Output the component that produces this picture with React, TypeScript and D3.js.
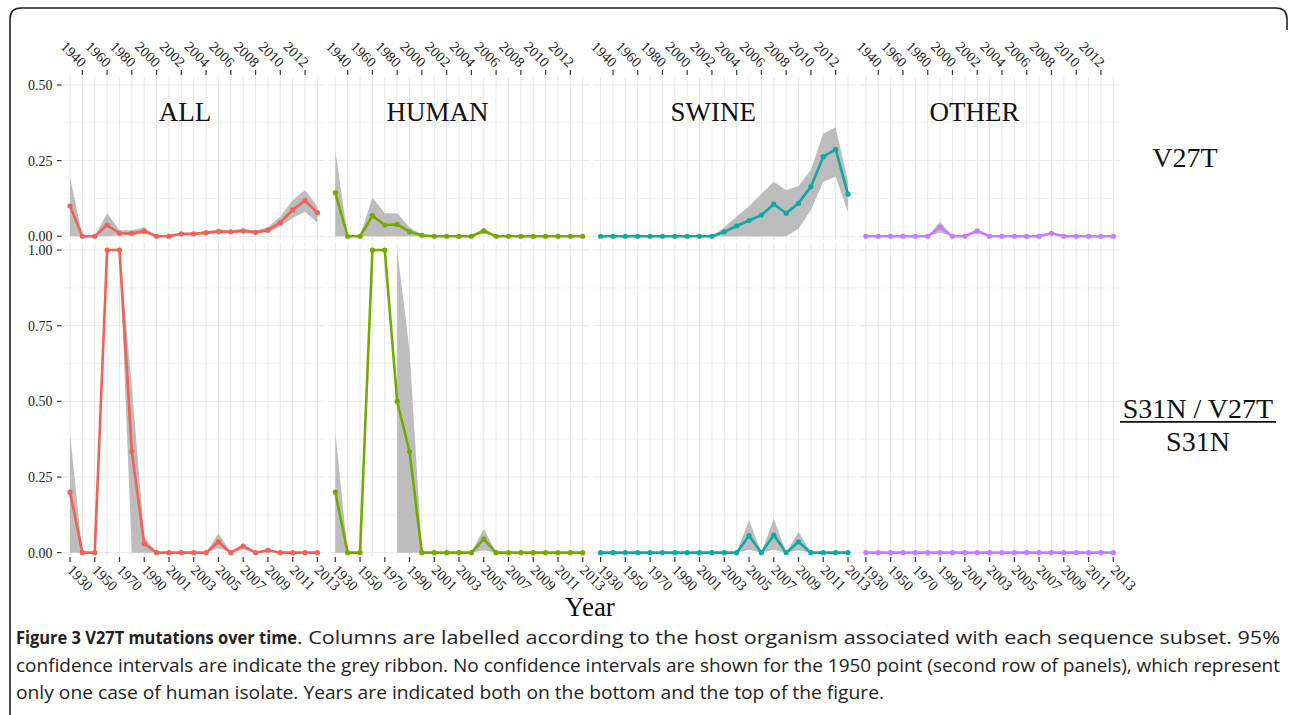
import React from 'react';
import * as d3 from 'd3';

// ---------- data ----------
const years = ['1930', '1940', '1950', '1960', '1970', '1980', '1990', '2000', '2001', '2002', '2003', '2004', '2005', '2006', '2007', '2008', '2009', '2010', '2011', '2012', '2013'];
const hosts = ['ALL', 'HUMAN', 'SWINE', 'OTHER'];
const hostColors = ['#EE6258', '#74A900', '#10A8A2', '#C77CFF'];

const topTicks = [0, 0.25, 0.5];
const bottomTicks = [0, 0.25, 0.5, 0.75, 1];

// Row 1: V27T
const allV27T = [0.10, 0, 0, 0.037, 0.01, 0.01, 0.017, 0, 0, 0.008, 0.008, 0.012, 0.016, 0.015, 0.018, 0.013, 0.02, 0.045, 0.087, 0.118, 0.078];
const allV27TLo = [0, 0, 0, 0, 0.003, 0.003, 0.008, 0, 0, 0.004, 0.004, 0.007, 0.01, 0.01, 0.012, 0.008, 0.013, 0.032, 0.06, 0.081, 0.045];
const allV27THi = [0.197, 0, 0, 0.076, 0.02, 0.02, 0.03, 0, 0, 0.012, 0.012, 0.017, 0.022, 0.02, 0.025, 0.018, 0.03, 0.065, 0.12, 0.153, 0.098];

const humanV27T = [0.144, 0, 0, 0.068, 0.037, 0.039, 0.015, 0.003, 0, 0, 0, 0, 0.018, 0, 0, 0, 0, 0, 0, 0, 0];
const humanV27TLo = [0, 0, 0, 0, 0, 0, 0, 0, 0, 0, 0, 0, 0.008, 0, 0, 0, 0, 0, 0, 0, 0];
const humanV27THi = [0.285, 0, 0, 0.128, 0.076, 0.076, 0.03, 0.005, 0, 0, 0, 0, 0.028, 0, 0, 0, 0, 0, 0, 0, 0];

const swineV27T = [0, 0, 0, 0, 0, 0, 0, 0, 0, 0, 0.015, 0.034, 0.052, 0.07, 0.106, 0.076, 0.109, 0.164, 0.263, 0.287, 0.139];
const swineV27TLo = [0, 0, 0, 0, 0, 0, 0, 0, 0, 0, 0, 0, 0, 0, 0, 0, 0.025, 0.087, 0.18, 0.197, 0.08];
const swineV27THi = [0, 0, 0, 0, 0, 0, 0, 0, 0, 0, 0.03, 0.065, 0.1, 0.14, 0.18, 0.153, 0.166, 0.22, 0.34, 0.36, 0.18];

const otherV27T = [0, 0, 0, 0, 0, 0, 0.03, 0, 0, 0.018, 0, 0, 0, 0, 0, 0.01, 0, 0, 0, 0, 0];
const otherV27TLo = [0, 0, 0, 0, 0, 0, 0.012, 0, 0, 0.01, 0, 0, 0, 0, 0, 0.005, 0, 0, 0, 0, 0];
const otherV27THi = [0, 0, 0, 0, 0, 0, 0.048, 0, 0, 0.024, 0, 0, 0, 0, 0, 0.013, 0, 0, 0, 0, 0];

// Row 2: S31N/V27T over S31N
const allS31N = [0.2, 0, 0, 1, 1, 0.334, 0.03, 0, 0, 0, 0, 0, 0.036, 0, 0.022, 0, 0.008, 0, 0, 0, 0];
const allS31NLo = [0, 0, null, null, 1, 0, 0, 0, 0, 0, 0, 0, 0.015, 0, 0.01, 0, 0.004, 0, 0, 0, 0];
const allS31NHi = [0.395, 0, null, null, 1, 0.55, 0.052, 0, 0, 0, 0, 0, 0.064, 0, 0.027, 0, 0.012, 0, 0, 0, 0];

const humanS31N = [0.2, 0, 0, 1, 1, 0.5, 0.334, 0, 0, 0, 0, 0, 0.045, 0, 0, 0, 0, 0, 0, 0, 0];
const humanS31NLo = [0, 0, null, null, null, 0, 0, 0, 0, 0, 0, 0, 0.008, 0, 0, 0, 0, 0, 0, 0, 0];
const humanS31NHi = [0.4, 0, null, null, null, 1, 0.67, 0, 0, 0, 0, 0, 0.08, 0, 0, 0, 0, 0, 0, 0, 0];

const swineS31N = [0, 0, 0, 0, 0, 0, 0, 0, 0, 0, 0, 0, 0.056, 0, 0.058, 0, 0.036, 0, 0, 0, 0];
const swineS31NLo = [0, 0, 0, 0, 0, 0, 0, 0, 0, 0, 0, 0, 0.01, 0, 0.01, 0, 0.008, 0, 0, 0, 0];
const swineS31NHi = [0, 0, 0, 0, 0, 0, 0, 0, 0, 0, 0, 0, 0.108, 0, 0.113, 0, 0.069, 0, 0, 0, 0];

const otherS31N = [0, 0, 0, 0, 0, 0, 0, 0, 0, 0, 0, 0, 0, 0, 0, 0, 0, 0, 0, 0, 0];
const otherS31NLo = [0, 0, 0, 0, 0, 0, 0, 0, 0, 0, 0, 0, 0, 0, 0, 0, 0, 0, 0, 0, 0];
const otherS31NHi = [0, 0, 0, 0, 0, 0, 0, 0, 0, 0, 0, 0, 0, 0, 0, 0, 0, 0, 0, 0, 0];

const rowSeries = [
  [
    [allV27T, allV27TLo, allV27THi],
    [humanV27T, humanV27TLo, humanV27THi],
    [swineV27T, swineV27TLo, swineV27THi],
    [otherV27T, otherV27TLo, otherV27THi],
  ],
  [
    [allS31N, allS31NLo, allS31NHi],
    [humanS31N, humanS31NLo, humanS31NHi],
    [swineS31N, swineS31NLo, swineS31NHi],
    [otherS31N, otherS31NLo, otherS31NHi],
  ],
];

const captionLine1Bold = 'Figure 3 V27T mutations over time';
const captionLine1Rest = '. Columns are labelled according to the host organism associated with each sequence subset. 95%';
const captionLine2 = 'confidence intervals are indicate the grey ribbon. No confidence intervals are shown for the 1950 point (second row of panels), which represent';
const captionLine3 = 'only one case of human isolate. Years are indicated both on the bottom and the top of the figure.';

// ---------- layout ----------
const W = 1290;
const H = 715;
const serif = '"Liberation Serif", "Times New Roman", serif';
const sans = '"Open Sans", "Noto Sans", sans-serif';
const firstCat = 70;
const colStep = 265.3;
const catSpan = 247.4;
const catPad = 7.42;
const stripOffsets = [-8.7, -21.5, -11, -15];
const capSize = 17.5;
const tickFont = 14.5;

export default function App() {
  const x = d3.scalePoint<string>().domain(years).range([0, catSpan]);
  const yRows = [
    d3.scaleLinear().domain([-0.012, 0.526]).range([239.9, 77.1]),
    d3.scaleLinear().domain([-0.012, 1.026]).range([556.3, 242.2]),
  ];
  const rowTicks = [topTicks, bottomTicks];
  const colX = (c: number) => firstCat + c * colStep;

  const panels: React.ReactNode[] = [];
  yRows.forEach((y, r) => {
    const ticks = rowTicks[r];
    const minor = ticks.slice(1).map((t, i) => (t + ticks[i]) / 2);
    const [d0, d1] = y.domain();
    hosts.forEach((host, c) => {
      const ox = colX(c);
      const [vals, lo, hi] = rowSeries[r][c];
      const idx = years.map((_, i) => i);
      const area = d3
        .area<number>()
        .defined((i) => lo[i] != null && hi[i] != null)
        .x((i) => ox + (x(years[i]) as number))
        .y0((i) => y(lo[i] as number))
        .y1((i) => y(hi[i] as number));
      const line = d3
        .line<number>()
        .x((i) => ox + (x(years[i]) as number))
        .y((i) => y(vals[i]));
      panels.push(
        <g key={`p-${r}-${c}`}>
          {minor.map((t) => (
            <line key={`mn${t}`} x1={ox - catPad} x2={ox + catSpan + catPad} y1={y(t)} y2={y(t)} stroke="#f2f2f2" strokeWidth={1} />
          ))}
          {ticks.map((t) => (
            <line key={`mj${t}`} x1={ox - catPad} x2={ox + catSpan + catPad} y1={y(t)} y2={y(t)} stroke="#e8e8e8" strokeWidth={1} />
          ))}
          {years.map((yr) => (
            <line key={`v${yr}`} x1={ox + (x(yr) as number)} x2={ox + (x(yr) as number)} y1={y(d1)} y2={y(d0)} stroke="#e6e6e6" strokeWidth={1} />
          ))}
          <path d={area(idx) || ''} fill="#bdbdbd" />
          <path d={line(idx) || ''} fill="none" stroke={hostColors[c]} strokeWidth={2.6} strokeLinejoin="round" />
          {idx.map((i) => (
            <circle key={`pt${i}`} cx={ox + (x(years[i]) as number)} cy={y(vals[i])} r={2.6} fill={hostColors[c]} />
          ))}
        </g>
      );
    });
  });

  // Axes
  const axes: React.ReactNode[] = [];
  yRows.forEach((y, r) => {
    rowTicks[r].forEach((t) => {
      axes.push(
        <g key={`yt-${r}-${t}`}>
          <line x1={57} x2={61.5} y1={y(t)} y2={y(t)} stroke="#333" strokeWidth={1.2} />
          <text x={52.5} y={y(t)} dy="0.35em" textAnchor="end" fontFamily={serif} fontSize={14} fill="#222">
            {d3.format('.2f')(t)}
          </text>
        </g>
      );
    });
  });
  hosts.forEach((_, c) => {
    const ox = colX(c);
    years.forEach((yr, i) => {
      const px = ox + (x(yr) as number);
      if (i % 2 === 1) {
        axes.push(
          <g key={`tt-${c}-${yr}`}>
            <line x1={px} x2={px} y1={70} y2={75} stroke="#333" strokeWidth={1.2} />
            <text transform={`translate(${px + 1.5},${64.5}) rotate(45)`} textAnchor="end" dy="0.35em" fontFamily={serif} fontSize={tickFont} fill="#222">
              {yr}
            </text>
          </g>
        );
      } else {
        axes.push(
          <g key={`bt-${c}-${yr}`}>
            <line x1={px} x2={px} y1={557} y2={562} stroke="#333" strokeWidth={1.2} />
            <text transform={`translate(${px},${567.5}) rotate(45)`} textAnchor="start" dy="0.35em" fontFamily={serif} fontSize={tickFont} fill="#222">
              {yr}
            </text>
          </g>
        );
      }
    });
  });

  return (
    <svg width={W} height={H} viewBox={`0 0 ${W} ${H}`} style={{ position: 'absolute', left: 0, top: 0, background: '#fff' }}>
      <rect x={0} y={0} width={W} height={H} fill="#fff" />
      <path d="M10,716 L10,19 Q10,8 21,8 L1276,8 Q1287,8 1287,19 L1287,30" fill="none" stroke="#222" strokeWidth={1.6} />
      {panels}
      {axes}
      {hosts.map((h, c) => (
        <text key={h} x={colX(c) + catSpan / 2 + stripOffsets[c]} y={120.7} textAnchor="middle" fontFamily={serif} fontSize={27} fill="#111">
          {h}
        </text>
      ))}
      <text x={1185} y={166.5} textAnchor="middle" fontFamily={serif} fontSize={28} fill="#111">V27T</text>
      <text x={1198} y={418} textAnchor="middle" fontFamily={serif} fontSize={28} fill="#111">S31N / V27T</text>
      <line x1={1120} x2={1276} y1={421.8} y2={421.8} stroke="#111" strokeWidth={1.8} />
      <text x={1198} y={451} textAnchor="middle" fontFamily={serif} fontSize={28} fill="#111">S31N</text>
      <text x={590} y={616} textAnchor="middle" fontFamily={serif} fontSize={27} fill="#111">Year</text>
      <text x={16} y={644} textLength={281} lengthAdjust="spacingAndGlyphs" fontFamily={sans} fontWeight={700} fontSize={capSize} fill="#222">
        {captionLine1Bold}
      </text>
      <text x={297} y={644} textLength={983} lengthAdjust="spacingAndGlyphs" fontFamily={sans} fontSize={capSize} fill="#222">
        {captionLine1Rest}
      </text>
      <text x={16} y={671.5} textLength={1264} lengthAdjust="spacingAndGlyphs" fontFamily={sans} fontSize={capSize} fill="#222">
        {captionLine2}
      </text>
      <text x={16} y={699} textLength={868} lengthAdjust="spacingAndGlyphs" fontFamily={sans} fontSize={capSize} fill="#222">
        {captionLine3}
      </text>
    </svg>
  );
}
